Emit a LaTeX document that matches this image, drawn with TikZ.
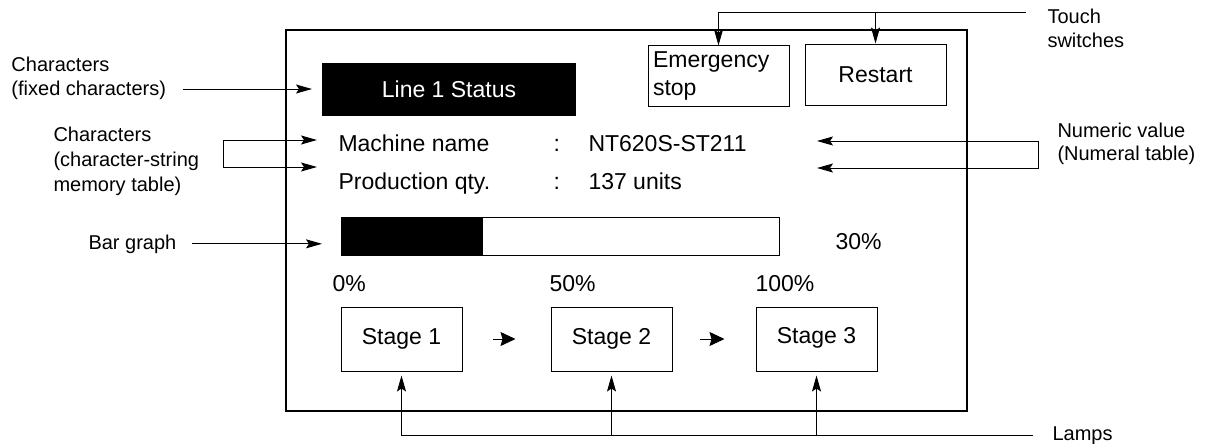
\documentclass[tikz,border=0pt]{standalone}
\usepackage{fontspec}
\setmainfont{Liberation Sans}
\usetikzlibrary{arrows.meta}

\begin{document}
\begin{tikzpicture}[x=1pt,y=-1pt,line width=1pt,
  >={Stealth[length=16pt,width=9pt,inset=3pt]},
  every node/.style={inner sep=0pt},
  big/.style={font=\fontsize{23}{28}\selectfont},
  lbl/.style={font=\fontsize{20}{24}\selectfont,align=left},
  switchbox/.style={draw,big,minimum width=141pt,minimum height=60pt},
  lampbox/.style={draw,big,minimum width=121pt,minimum height=64pt},
  stagearrow/.style={-{Stealth[length=15pt,width=14pt,inset=2pt]}}]
\useasboundingbox (0,0) rectangle (1209,444);

\node[draw,line width=1.2pt,minimum width=681pt,minimum height=381pt] (screen) at (626.5,220.5) {};
\node[fill=black,text=white,big,minimum width=254pt,minimum height=53pt] (status) at (449,89.5) {Line 1 Status};
\node[switchbox,text width=131pt,align=left,inner sep=5pt] (emerg) at (718.5,76) {Emergency\\stop};
\node[switchbox] (restart) at (875.5,75) {Restart};

\node[big,anchor=base west] (mname) at (338,151) {Machine name};
\node[big,anchor=base west] (mcol) at (553,151) {:};
\node[big,anchor=base west] (mval) at (588,151) {NT620S-ST211};
\node[big,anchor=base west] (pname) at (338,189) {Production qty.};
\node[big,anchor=base west] (pcol) at (553,189) {:};
\node[big,anchor=base west] (pval) at (588,189) {137 units};

\node[draw,minimum width=438pt,minimum height=38pt] (bar) at (560,236) {};
\fill (bar.north west) rectangle ([xshift=142pt]bar.south west);
\node[big,anchor=base west] (pct) at (835,249) {30\%};
\node[big,anchor=base west] (p0) at (332,291) {0\%};
\node[big,anchor=base west] (p50) at (549,291) {50\%};
\node[big,anchor=base west] (p100) at (755,291) {100\%};

\node[lampbox] (stA) at (401.5,339) {Stage 1};
\node[lampbox] (stB) at (611.5,339) {Stage 2};
\node[lampbox,text depth=8pt] (stC) at (816.5,339) {Stage 3};
\draw[stagearrow] ([xshift=30pt]stA.east) -- ([xshift=53pt]stA.east);
\draw[stagearrow] ([xshift=27pt]stB.east) -- ([xshift=52pt]stB.east);

\node[lbl,anchor=north west] (fixedlbl) at (11,57) {Characters\\(fixed characters)};
\node[lbl,anchor=north west,font=\fontsize{20}{25}\selectfont] (strlbl) at (53,127) {Characters\\(character-string\\memory table)};
\node[lbl,anchor=base west] (barlbl) at (88,249) {Bar graph};
\node[lbl,anchor=north west,font=\fontsize{20}{23}\selectfont] (numlbl) at (1057,123) {Numeric value\\(Numeral table)};
\node[lbl,anchor=north west] (touchlbl) at (1047,9) {Touch\\switches};
\node[lbl,anchor=base west] (lamplbl) at (1052,440) {Lamps};

\coordinate (fixstart) at (183,89);
\coordinate (fixtip) at (312,89);
\draw[->] (fixstart) -- (fixtip);
\coordinate (strA) at (317,140);
\coordinate (strB) at (317,167);
\draw[<->] (strA) -| ([xshift=-94pt]strB) -- (strB);
\coordinate (numA) at (817,141);
\coordinate (numB) at (817,168);
\draw[<->] (numA) -| ([xshift=221pt]numB) -- (numB);
\coordinate (bartip) at (322,242);
\draw[->] ([xshift=15pt]barlbl.east) -- (bartip |- barlbl.east);
\coordinate (touchend) at (1026,13);
\draw[<-] (emerg.north) |- (touchend);
\draw[->] (restart.north |- touchend) -- ([yshift=1pt]restart.north);
\coordinate (lampend) at (1033,435);
\draw[<-] ([yshift=-4pt]stA.south) |- (lampend);
\draw[->] (stB.south |- lampend) -- ([yshift=-4pt]stB.south);
\draw[->] (stC.south |- lampend) -- ([yshift=-4pt]stC.south);
\end{tikzpicture}
\end{document}
